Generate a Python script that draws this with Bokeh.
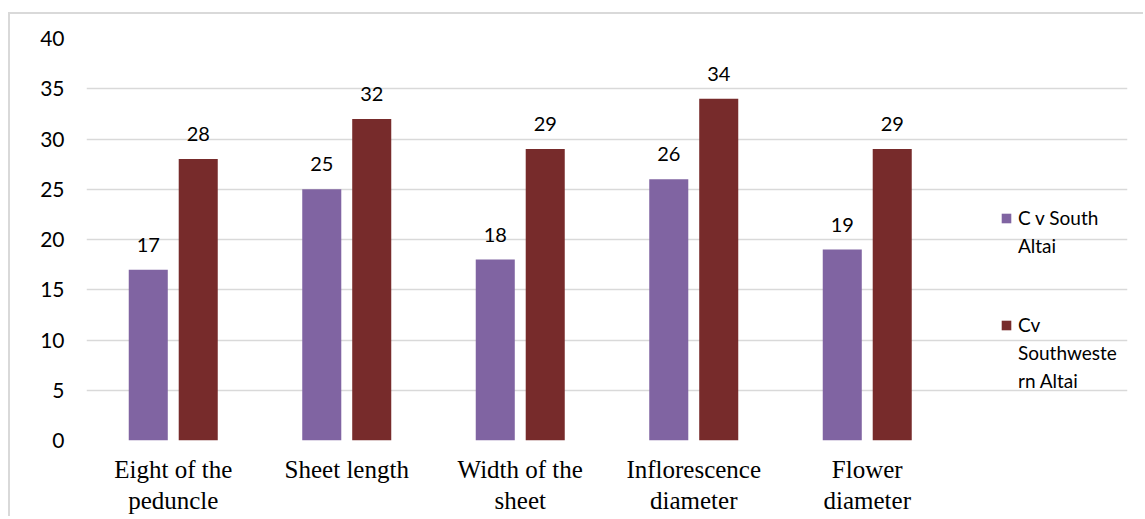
from bokeh.plotting import figure
from bokeh.models import ColumnDataSource, Range1d, FixedTicker, Legend, LegendItem, LabelSet
from bokeh.core.properties import value
from bokeh.embed import file_html
from bokeh.resources import INLINE

categories = ["Eight of the\npeduncle", "Sheet length", "Width of the\nsheet",
              "Inflorescence\ndiameter", "Flower\ndiameter"]
south_altai = [17, 25, 18, 26, 19]
southwestern_altai = [28, 32, 29, 34, 29]
series1_label_lines = ["C v South", "Altai"]
series2_label_lines = ["Cv", "Southweste", "rn Altai"]
series_colors = ["#8064A2", "#772B2B"]
y_ticks = [0, 5, 10, 15, 20, 25, 30, 35, 40]

n_slots = len(categories) + 1
centers = [i + 0.5 for i in range(len(categories))]
offset = 0.144
bar_w = 0.225

src1 = ColumnDataSource(dict(x=[c - offset for c in centers], v=south_altai,
                             t=[str(v) for v in south_altai]))
src2 = ColumnDataSource(dict(x=[c + offset for c in centers], v=southwestern_altai,
                             t=[str(v) for v in southwestern_altai]))

p = figure(width=1135, height=504, output_backend="svg", toolbar_location=None,
           x_range=Range1d(0, n_slots), y_range=Range1d(0, 40),
           min_border_left=76, min_border_right=18, min_border_top=24, min_border_bottom=78,
           styles={"border-top": "2px solid #d9d9d9", "border-left": "2px solid #d9d9d9"})
p.margin = (12, 0, 0, 8)
p.outline_line_color = None
p.background_fill_color = "white"
p.border_fill_color = "white"

r1 = p.vbar(x="x", top="v", width=bar_w, source=src1, fill_color=series_colors[0], line_color=None)
r2 = p.vbar(x="x", top="v", width=bar_w, source=src2, fill_color=series_colors[1], line_color=None)
# invisible renderer used only for continuation lines of wrapped legend labels
blank = p.vbar(x=[], top=[], width=bar_w, fill_alpha=0, line_alpha=0)

for s in (src1, src2):
    p.add_layout(LabelSet(x="x", y="v", text="t", source=s, y_offset=18,
                          text_align="center", text_baseline="alphabetic",
                          text_font=value("Lato"), text_font_size="20px", text_color="#000000"))

# axes
p.xaxis.ticker = FixedTicker(ticks=centers)
p.xaxis.major_label_overrides = {c: lab for c, lab in zip(centers, categories)}
p.xaxis.major_label_text_font = "Liberation Serif"
p.xaxis.major_label_text_font_size = "25px"
p.xaxis.major_label_text_color = "#000000"
p.xaxis.major_label_text_line_height = 1.18
p.xaxis.major_label_standoff = 9
p.xaxis.axis_line_color = None
p.xaxis.major_tick_line_color = None
p.xaxis.minor_tick_line_color = None

p.yaxis.ticker = FixedTicker(ticks=y_ticks)
p.yaxis.major_label_text_font = "Lato"
p.yaxis.major_label_text_font_size = "21px"
p.yaxis.major_label_text_color = "#000000"
p.yaxis.major_label_standoff = 16
p.yaxis.axis_line_color = None
p.yaxis.major_tick_line_color = None
p.yaxis.minor_tick_line_color = None

p.xgrid.grid_line_color = None
p.ygrid.grid_line_color = "#d9d9d9"
p.ygrid.grid_line_width = 1.5

common = dict(padding=0, margin=0, spacing=5, glyph_width=12, glyph_height=12,
              label_standoff=6, label_text_font="Lato", label_text_font_size="19px",
              label_text_color="#000000", border_line_color=None, background_fill_alpha=0)

items1 = [LegendItem(label=series1_label_lines[0], renderers=[r1])] + \
         [LegendItem(label=t, renderers=[blank]) for t in series1_label_lines[1:]]
items2 = [LegendItem(label=series2_label_lines[0], renderers=[r2])] + \
         [LegendItem(label=t, renderers=[blank]) for t in series2_label_lines[1:]]

p.add_layout(Legend(items=items1, location=(914, 183), **common), "center")
p.add_layout(Legend(items=items2, location=(914, 48), **common), "center")

open("out.html", "w").write(file_html(p, INLINE))
